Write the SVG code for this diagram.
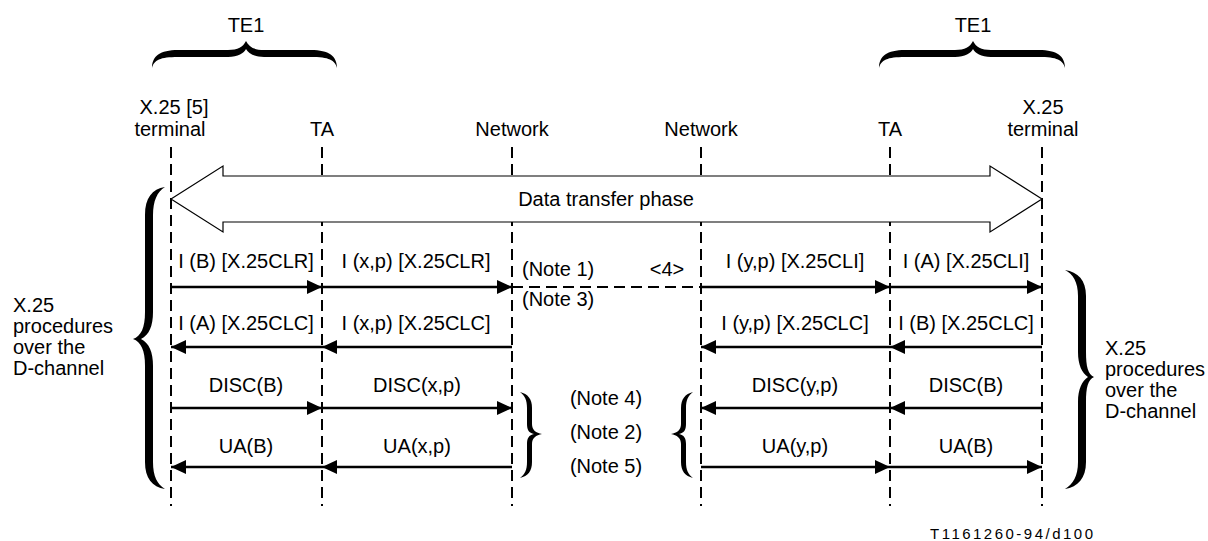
<svg xmlns="http://www.w3.org/2000/svg" width="1208" height="541" viewBox="0 0 1208 541">
<style>
text{font-family:"Liberation Sans",Arial,sans-serif;font-size:20px;fill:#000}
.c{text-anchor:middle}
.life{stroke:#000;stroke-width:2;stroke-dasharray:11 6;fill:none}
.msg{stroke:#000;stroke-width:2.5;fill:none}
.dmsg{stroke:#000;stroke-width:2;stroke-dasharray:11 6;fill:none}
.brace{fill:#000;stroke:none}
</style>
<defs>
<marker id="ah" viewBox="0 0 15 14" refX="15" refY="7" markerWidth="15" markerHeight="14" markerUnits="userSpaceOnUse" orient="auto">
<path d="M0,0 L15,7 L0,14 Z" fill="#000"/>
</marker>
</defs>

<!-- top braces -->
<g id="te1-left">
<text class="c" x="246" y="32">TE1</text>
<path class="brace" d="M152,68 C152,56 160,50 178,50 L228,50 C238,50 243,47 246,41 C249,47 254,50 264,50 L311,50 C329,50 337,56 337,68 C335,60 329,57 311,57 L264,57 C254,57 248,53 246,49 C244,53 238,57 228,57 L178,57 C160,57 154,60 152,68 Z"/>
</g>
<g id="te1-right">
<text class="c" x="973" y="32">TE1</text>
<path class="brace" d="M879,68 C879,56 887,50 905,50 L955,50 C965,50 970,47 973,41 C976,47 981,50 991,50 L1039,50 C1057,50 1065,56 1065,68 C1063,60 1057,57 1039,57 L991,57 C981,57 975,53 973,49 C971,53 965,57 955,57 L905,57 C887,57 881,60 879,68 Z"/>
</g>

<!-- lifelines -->
<g id="x25-terminal-left">
<text class="c" x="174" y="114">X.25 [5]</text>
<text class="c" x="170" y="136">terminal</text>
<line class="life" x1="171" y1="147" x2="171" y2="506"/>
</g>
<g id="ta-left">
<text class="c" x="322" y="136">TA</text>
<line class="life" x1="322" y1="147" x2="322" y2="506"/>
</g>
<g id="network-left">
<text class="c" x="512" y="136">Network</text>
<line class="life" x1="512" y1="147" x2="512" y2="506"/>
</g>
<g id="network-right">
<text class="c" x="701" y="136">Network</text>
<line class="life" x1="701" y1="147" x2="701" y2="506"/>
</g>
<g id="ta-right">
<text class="c" x="890" y="136">TA</text>
<line class="life" x1="890" y1="147" x2="890" y2="506"/>
</g>
<g id="x25-terminal-right">
<text class="c" x="1043" y="114">X.25</text>
<text class="c" x="1043" y="136">terminal</text>
<line class="life" x1="1042" y1="147" x2="1042" y2="506"/>
</g>

<!-- data transfer phase -->
<g id="data-transfer-phase">
<path d="M171,199 L223,166 L223,176 L990,176 L990,166 L1042,199 L990,232 L990,222 L223,222 L223,232 Z" fill="#fff" stroke="#000" stroke-width="1.2"/>
<text class="c" x="606" y="206">Data transfer phase</text>
</g>

<!-- connectors -->
<g id="connectors">
<line class="msg" x1="171" y1="287" x2="322" y2="287" marker-end="url(#ah)"/>
<line class="msg" x1="322" y1="287" x2="512" y2="287" marker-end="url(#ah)"/>
<line class="dmsg" x1="512" y1="287" x2="701" y2="287"/>
<line class="msg" x1="701" y1="287" x2="890" y2="287" marker-end="url(#ah)"/>
<line class="msg" x1="890" y1="287" x2="1042" y2="287" marker-end="url(#ah)"/>

<line class="msg" x1="322" y1="347" x2="171" y2="347" marker-end="url(#ah)"/>
<line class="msg" x1="512" y1="347" x2="322" y2="347" marker-end="url(#ah)"/>
<line class="msg" x1="890" y1="347" x2="701" y2="347" marker-end="url(#ah)"/>
<line class="msg" x1="1042" y1="347" x2="890" y2="347" marker-end="url(#ah)"/>

<line class="msg" x1="171" y1="408" x2="322" y2="408" marker-end="url(#ah)"/>
<line class="msg" x1="322" y1="408" x2="512" y2="408" marker-end="url(#ah)"/>
<line class="msg" x1="890" y1="408" x2="701" y2="408" marker-end="url(#ah)"/>
<line class="msg" x1="1042" y1="408" x2="890" y2="408" marker-end="url(#ah)"/>

<line class="msg" x1="322" y1="467" x2="171" y2="467" marker-end="url(#ah)"/>
<line class="msg" x1="512" y1="467" x2="322" y2="467" marker-end="url(#ah)"/>
<line class="msg" x1="701" y1="467" x2="890" y2="467" marker-end="url(#ah)"/>
<line class="msg" x1="890" y1="467" x2="1042" y2="467" marker-end="url(#ah)"/>
</g>

<!-- message labels -->
<g id="labels">
<text class="c" x="246" y="268">I (B) [X.25CLR]</text>
<text class="c" x="416" y="268">I (x,p) [X.25CLR]</text>
<text x="522" y="276">(Note 1)</text>
<text class="c" x="667" y="276">&lt;4&gt;</text>
<text x="522" y="306">(Note 3)</text>
<text class="c" x="795" y="268">I (y,p) [X.25CLI]</text>
<text class="c" x="966" y="268">I (A) [X.25CLI]</text>

<text class="c" x="246" y="330">I (A) [X.25CLC]</text>
<text class="c" x="416" y="330">I (x,p) [X.25CLC]</text>
<text class="c" x="795" y="330">I (y,p) [X.25CLC]</text>
<text class="c" x="966" y="330">I (B) [X.25CLC]</text>

<text class="c" x="246" y="392">DISC(B)</text>
<text class="c" x="417" y="392">DISC(x,p)</text>
<text class="c" x="795" y="392">DISC(y,p)</text>
<text class="c" x="966" y="392">DISC(B)</text>

<text class="c" x="246" y="453">UA(B)</text>
<text class="c" x="417" y="453">UA(x,p)</text>
<text class="c" x="795" y="453">UA(y,p)</text>
<text class="c" x="966" y="453">UA(B)</text>

<text class="c" x="606" y="405">(Note 4)</text>
<text class="c" x="606" y="439">(Note 2)</text>
<text class="c" x="606" y="473">(Note 5)</text>
</g>

<!-- side braces -->
<g id="procedures-left">
<path class="brace" d="M165,187 C152,189 145,198 145,215 L145,312 C145,328 141,336 133,339 C141,342 145,350 145,366 L145,462 C145,478 152,487 165,489 C157,484 153,476 153,462 L153,366 C153,352 149,343 141,339 C149,335 153,326 153,312 L153,215 C153,201 157,192 165,187 Z"/>
<text x="13" y="312">X.25</text>
<text x="13" y="333">procedures</text>
<text x="13" y="354">over the</text>
<text x="13" y="375">D-channel</text>
</g>
<g id="procedures-right">
<path class="brace" d="M1065,270 C1078,272 1086,280 1086,296 L1086,352 C1086,367 1088,374 1094,377 C1088,380 1086,387 1086,402 L1086,462 C1086,478 1078,487 1065,489 C1073,484 1078,476 1078,462 L1078,402 C1078,389 1082,381 1088,377 C1082,373 1078,365 1078,352 L1078,296 C1078,282 1073,274 1065,270 Z"/>
<text x="1105" y="355">X.25</text>
<text x="1105" y="376">procedures</text>
<text x="1105" y="397">over the</text>
<text x="1105" y="418">D-channel</text>
</g>
<g id="notes-brace-left">
<path class="brace" d="M520,392 C528,394 532,399 532,408 L532,424 C532,430 536,433 542,434 C536,435 532,438 532,444 L532,462 C532,471 528,476 520,478 C525,474 527,470 527,462 L527,444 C527,438 529,435 534,434 C529,433 527,430 527,424 L527,408 C527,400 525,396 520,392 Z"/>
</g>
<g id="notes-brace-right">
<path class="brace" d="M693,392 C685,394 681,399 681,408 L681,424 C681,430 677,433 671,434 C677,435 681,438 681,444 L681,462 C681,471 685,476 693,478 C688,474 686,470 686,462 L686,444 C686,438 684,435 679,434 C684,433 686,430 686,424 L686,408 C686,400 688,396 693,392 Z"/>
</g>

<text x="930" y="539" font-size="15" style="font-size:15px" textLength="163">T1161260-94/d100</text>
</svg>
